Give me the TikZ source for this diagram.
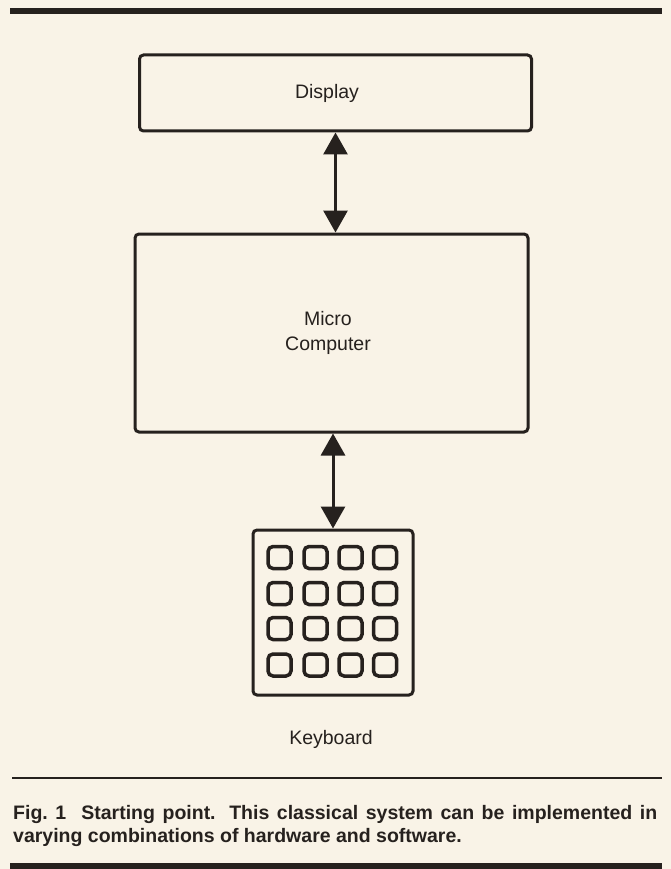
\documentclass[tikz,border=0pt]{standalone}
\usepackage{fontspec}
\setmainfont{Liberation Sans}
\usetikzlibrary{arrows.meta,calc}
\definecolor{paper}{RGB}{249,243,231}
\definecolor{ink}{RGB}{38,33,30}
\begin{document}
\begin{tikzpicture}[x=1pt,y=-1pt,
  box/.style={draw=ink,line width=3pt,rounded corners=4pt,inner sep=0pt},
  keybox/.style={draw=ink,line width=3.5pt,rounded corners=5pt,inner sep=0pt,minimum width=23pt,minimum height=22pt},
  lab/.style={text=ink,font=\fontsize{19.5}{25}\selectfont,inner sep=0pt,align=center},
  arr/.style={draw=ink,line width=3pt,{Triangle[width=24pt,length=22pt]}-{Triangle[width=24pt,length=22pt]}},
  capt/.style={text=ink,font=\bfseries\fontsize{19.5}{23}\selectfont,inner sep=0pt,anchor=base west},
  bar/.style={fill=ink}]
\fill[paper] (0,0) rectangle (671,869);
\useasboundingbox (0,0) rectangle (671,869);
% bars
\fill[bar] (10,8) rectangle (662,14.5);
\draw[ink,line width=1.5pt] (12,778) -- (662,778);
\fill[bar] (10,863) rectangle (662,875);
% boxes
\node[box,minimum width=392pt,minimum height=76pt] (disp) at (335.5,93) {};
\node[box,minimum width=393pt,minimum height=198pt] (micro) at (331.5,333) {};
\node[box,minimum width=160pt,minimum height=165pt] (kb) at (333,612.5) {};
% labels
\node[lab] (displab) at (327,93) {Display};
\node[lab] (microlab) at (328,333) {Micro\\Computer};
\node[lab] (kblab) at (331,739) {Keyboard};
% keys
\foreach \i/\x in {1/279.5,2/315.5,3/350.5,4/385}{
  \foreach \j/\y in {1/557.5,2/593.5,3/628.5,4/665}{
    \node[keybox] (k\i\j) at (\x,\y) {};
  }
}
% arrows
\draw[arr] (disp.south) -- (disp.south |- micro.north);
\draw[arr] (micro.south -| kb.north) -- (kb.north);
% caption
\node[capt] (cap1) at (13,819) {\makebox[644pt][s]{Fig.\ 1\ \ Starting point. This classical system can be implemented in}};
\node[capt] (cap2) at (13,842) {varying combinations of hardware and software.};
\end{tikzpicture}
\end{document}
